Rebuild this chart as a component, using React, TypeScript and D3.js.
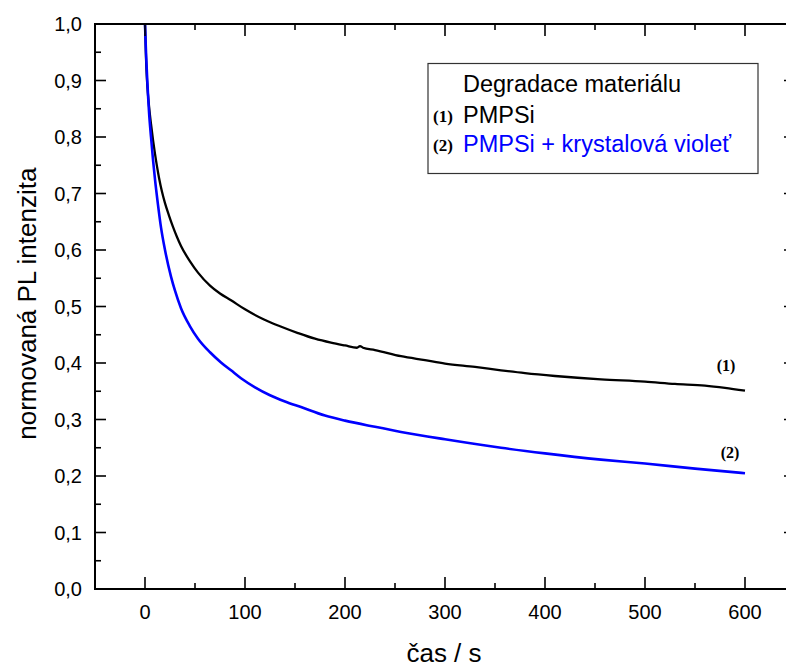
import React, { useEffect, useRef } from "react";
import * as d3 from "d3";

const W = 786;
const H = 668;

const xTicks = [0, 100, 200, 300, 400, 500, 600];
const yTicks = [0, 0.1, 0.2, 0.3, 0.4, 0.5, 0.6, 0.7, 0.8, 0.9, 1.0];

const t1 = [0, 1, 2, 3, 4, 6, 8, 10, 12, 14, 17, 20, 24, 28, 32, 36, 45, 53, 65, 75, 86, 100, 119, 135, 153, 170, 186, 200, 212, 215, 218, 230, 256, 280, 300, 330, 356, 380, 410, 456, 500, 530, 560, 580, 600];
const v1 = [1.0, 0.94, 0.9, 0.875, 0.855, 0.823, 0.795, 0.77, 0.748, 0.728, 0.703, 0.683, 0.661, 0.641, 0.623, 0.607, 0.58, 0.56, 0.537, 0.523, 0.511, 0.495, 0.477, 0.465, 0.453, 0.443, 0.436, 0.431, 0.427, 0.43, 0.427, 0.423, 0.412, 0.405, 0.399, 0.393, 0.387, 0.382, 0.377, 0.371, 0.367, 0.363, 0.36, 0.356, 0.351];

const t2 = [0, 1, 2, 3, 4, 6, 8, 10, 13, 16, 20, 26, 30, 36, 45, 53, 65, 76, 86, 96, 110, 125, 140, 156, 180, 200, 230, 256, 300, 356, 400, 456, 500, 550, 600];
const v2 = [1.0, 0.95, 0.91, 0.875, 0.845, 0.8, 0.76, 0.725, 0.68, 0.64, 0.6, 0.553, 0.528, 0.497, 0.465, 0.443, 0.419, 0.401, 0.387, 0.373, 0.357, 0.343, 0.332, 0.322, 0.307, 0.298, 0.287, 0.278, 0.265, 0.25, 0.24, 0.229, 0.222, 0.213, 0.205];

const legendTitle = "Degradace materiálu";
const seriesNames = ["PMPSi", "PMPSi + krystalová violeť"];
const seriesTags = ["(1)", "(2)"];
const seriesColors = ["#000000", "#0000ff"];

export default function App() {
  const ref = useRef<SVGSVGElement>(null);

  useEffect(() => {
    const svg = d3.select(ref.current);
    svg.selectAll("*").remove();

    const left = 95, right = 795, top = 24, bottom = 589;
    const x = d3.scaleLinear().domain([-50, 650]).range([left, right]);
    const y = d3.scaleLinear().domain([0, 1]).range([bottom, top]);

    const font = "Liberation Sans, Arial, sans-serif";
    const serif = "Liberation Serif, Times New Roman, serif";

    const g = svg.append("g");

    // curves
    const line = d3.line<[number, number]>().x(d => x(d[0])).y(d => y(d[1])).curve(d3.curveMonotoneX);
    const series = [
      { t: t1, v: v1 },
      { t: t2, v: v2 },
    ];
    series.forEach((s, i) => {
      const pts: [number, number][] = s.t.map((tt, k) => [tt, s.v[k]]);
      g.append("path")
        .attr("d", line(pts) as string)
        .attr("fill", "none")
        .attr("stroke", seriesColors[i])
        .attr("stroke-width", i === 1 ? 2.6 : 2.3)
        .attr("stroke-linejoin", "round");
    });

    // frame
    const axisColor = "#000";
    g.append("rect")
      .attr("x", left).attr("y", top)
      .attr("width", right - left).attr("height", bottom - top)
      .attr("fill", "none").attr("stroke", axisColor).attr("stroke-width", 2);

    // x ticks (bottom up, top down)
    const xMinor = d3.range(-50, 651, 50);
    xMinor.forEach(v => {
      const major = v % 100 === 0;
      const len = major ? 12 : 6;
      g.append("line").attr("x1", x(v)).attr("x2", x(v)).attr("y1", bottom).attr("y2", bottom - len)
        .attr("stroke", axisColor).attr("stroke-width", 1.6);
      g.append("line").attr("x1", x(v)).attr("x2", x(v)).attr("y1", top).attr("y2", top + len)
        .attr("stroke", axisColor).attr("stroke-width", 1.6);
    });
    xTicks.forEach(v => {
      g.append("text").attr("x", x(v)).attr("y", 619)
        .attr("text-anchor", "middle").attr("font-family", font).attr("font-size", 20)
        .text(String(v));
    });

    // y ticks
    const yMinor = d3.range(0, 21).map(i => i * 0.05);
    yMinor.forEach((v, i) => {
      const major = i % 2 === 0;
      const len = major ? 11 : 6;
      g.append("line").attr("x1", left).attr("x2", left + len).attr("y1", y(v)).attr("y2", y(v))
        .attr("stroke", axisColor).attr("stroke-width", 1.6);
      g.append("line").attr("x1", right).attr("x2", right - len).attr("y1", y(v)).attr("y2", y(v))
        .attr("stroke", axisColor).attr("stroke-width", 1.6);
    });
    yTicks.forEach(v => {
      g.append("text").attr("x", 82).attr("y", y(v) + 7)
        .attr("text-anchor", "end").attr("font-family", font).attr("font-size", 20)
        .text(d3.format(".1f")(v).replace(".", ","));
    });

    // axis titles
    g.append("text").attr("x", (left + right) / 2 - 1).attr("y", 662)
      .attr("text-anchor", "middle").attr("font-family", font).attr("font-size", 26)
      .text("čas / s");
    g.append("text")
      .attr("transform", `translate(36,${y(0.505)}) rotate(-90)`)
      .attr("text-anchor", "middle").attr("font-family", font).attr("font-size", 26)
      .text("normovaná PL intenzita");

    // legend
    g.append("rect").attr("x", 428).attr("y", 63.5).attr("width", 330).attr("height", 110)
      .attr("fill", "#fff").attr("stroke", "#333").attr("stroke-width", 1.2);
    g.append("text").attr("x", 463).attr("y", 92).attr("font-family", font).attr("font-size", 23.5)
      .attr("fill", "#000").text(legendTitle);
    const rowY = [123, 152];
    seriesNames.forEach((n, i) => {
      g.append("text").attr("x", 433).attr("y", rowY[i] - 1).attr("font-family", serif).attr("font-weight", "bold")
        .attr("font-size", 17).attr("fill", "#000").text(seriesTags[i]);
      g.append("text").attr("x", 463).attr("y", rowY[i]).attr("font-family", font).attr("font-size", 23.5)
        .attr("fill", seriesColors[i]).text(n);
    });

    // curve annotations
    const ann = [
      { t: 581, v: 0.385, tag: seriesTags[0] },
      { t: 585, v: 0.232, tag: seriesTags[1] },
    ];
    ann.forEach(a => {
      g.append("text").attr("x", x(a.t)).attr("y", y(a.v)).attr("text-anchor", "middle")
        .attr("font-family", serif).attr("font-weight", "bold").attr("font-size", 16).text(a.tag);
    });
  }, []);

  return (
    <svg ref={ref} width={W} height={H} style={{ position: "absolute", left: 0, top: 0, background: "#fff" }} />
  );
}
